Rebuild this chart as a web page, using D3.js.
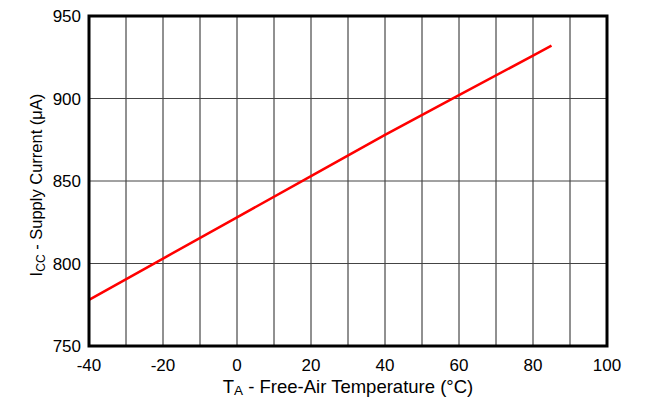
<!DOCTYPE html>
<html>
<head>
<meta charset="utf-8">
<script src="https://cdn.jsdelivr.net/npm/d3@7"></script>
<style>
  html, body { margin: 0; padding: 0; background: #fff; }
  svg { display: block; font-family: "Liberation Sans", Arial, sans-serif; }
</style>
</head>
<body>
<svg width="651" height="406"></svg>
<script>
// data
const temps = [-40, -20, 0, 20, 40, 60, 80, 85];
const icc = [778, 803, 828, 853, 878, 902, 926, 932];
const xTicks = [-40, -20, 0, 20, 40, 60, 80, 100];
const xGrid = d3.range(-40, 101, 10);
const yTicks = [750, 800, 850, 900, 950];

const svg = d3.select('svg');
const m = { left: 89, right: 607, top: 16, bottom: 346 };

const x = d3.scaleLinear().domain([-40, 100]).range([m.left, m.right]);
const y = d3.scaleLinear().domain([750, 950]).range([m.bottom, m.top]);

// grid
svg.append('g')
  .selectAll('line')
  .data(xGrid)
  .enter()
  .append('line')
  .attr('x1', (d) => x(d)).attr('x2', (d) => x(d))
  .attr('y1', m.top).attr('y2', m.bottom)
  .attr('stroke', '#222').attr('stroke-width', 1);

svg.append('g')
  .selectAll('line')
  .data(yTicks)
  .enter()
  .append('line')
  .attr('x1', m.left).attr('x2', m.right)
  .attr('y1', (d) => y(d)).attr('y2', (d) => y(d))
  .attr('stroke', '#444').attr('stroke-width', 1);

// data line
const line = d3.line().x((d, i) => x(temps[i])).y((d) => y(d));
svg.append('path')
  .datum(icc)
  .attr('d', line)
  .attr('fill', 'none')
  .attr('stroke', '#ff0000')
  .attr('stroke-width', 2.5);

// frame
svg.append('rect')
  .attr('x', m.left).attr('y', m.top)
  .attr('width', m.right - m.left).attr('height', m.bottom - m.top)
  .attr('fill', 'none').attr('stroke', '#000').attr('stroke-width', 3);

// tick labels
svg.append('g')
  .selectAll('text')
  .data(xTicks)
  .enter()
  .append('text')
  .attr('x', (d) => x(d))
  .attr('y', 371)
  .attr('text-anchor', 'middle')
  .attr('font-size', 17)
  .text((d) => d);

svg.append('g')
  .selectAll('text')
  .data(yTicks)
  .enter()
  .append('text')
  .attr('x', 81)
  .attr('y', (d) => y(d) + 6)
  .attr('text-anchor', 'end')
  .attr('font-size', 17)
  .text((d) => d);

// axis titles
const xt = svg.append('text')
  .attr('x', 348).attr('y', 393)
  .attr('text-anchor', 'middle')
  .attr('font-size', 18.5);
xt.append('tspan').text('T');
xt.append('tspan').attr('font-size', 13.5).attr('dy', 2).text('A');
xt.append('tspan').attr('dy', -2).text(' - Free-Air Temperature (°C)');

const yt = svg.append('text')
  .attr('transform', 'translate(42,' + 185 + ') rotate(-90)')
  .attr('text-anchor', 'middle')
  .attr('font-size', 16.5);
yt.append('tspan').text('I');
yt.append('tspan').attr('font-size', 12).attr('dy', 3).text('CC');
yt.append('tspan').attr('dy', -3).text(' - Supply Current (μA)');
</script>
</body>
</html>
